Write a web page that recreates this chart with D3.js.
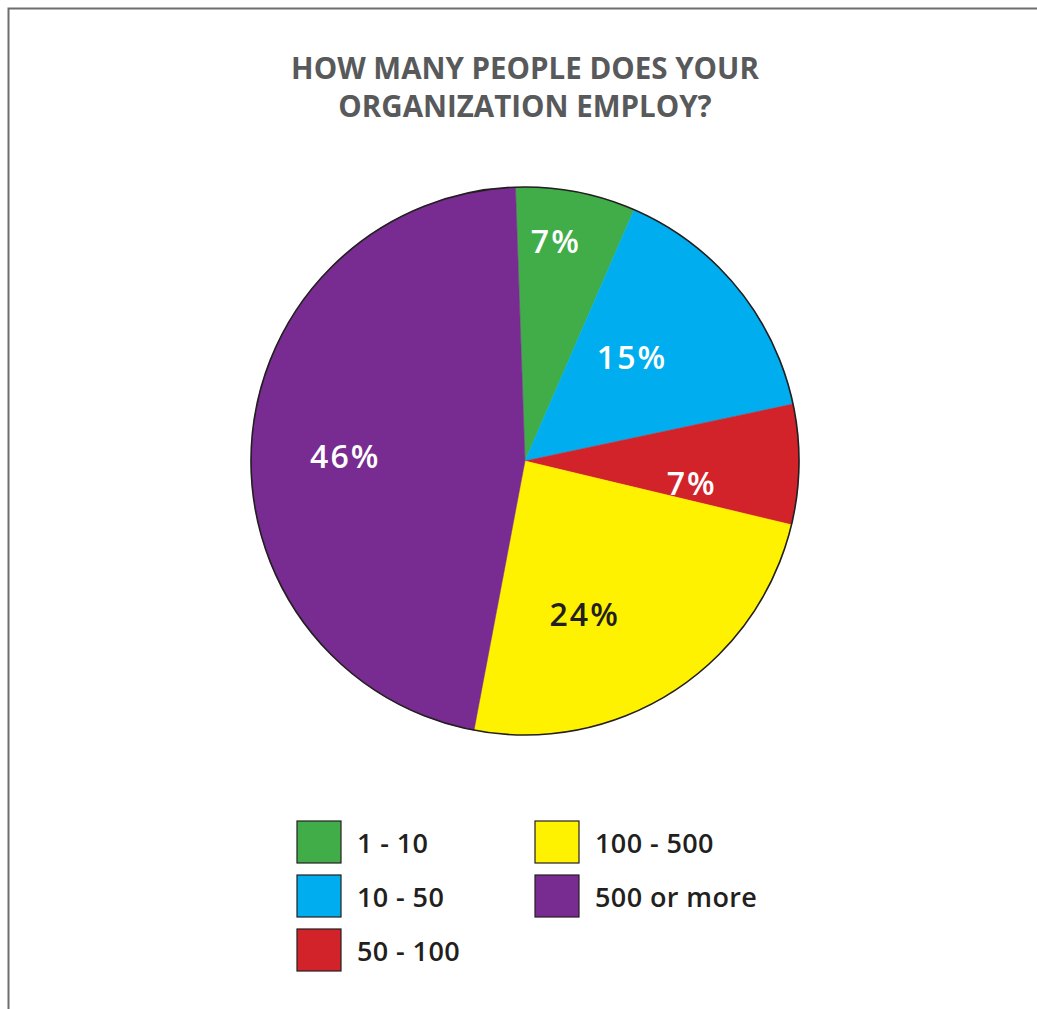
<!DOCTYPE html>
<html>
<head>
<meta charset="utf-8">
<script src="https://cdn.jsdelivr.net/npm/d3@7"></script>
<style>
  html, body { margin: 0; padding: 0; background: #fff; }
  svg { display: block; }
</style>
</head>
<body>
<svg id="chart" width="1037" height="1009"></svg>
<script>
// Survey answers: company size and share of respondents (%)
const categories = ["1 - 10", "10 - 50", "50 - 100", "100 - 500", "500 or more"];
const shares = [7, 15, 7, 24, 46];
const colors = ["#41AD49", "#00AEEF", "#D2232A", "#FFF200", "#782B90"];
const labelColors = ["#ffffff", "#ffffff", "#ffffff", "#231F20", "#ffffff"];
const title = ["HOW MANY PEOPLE DOES YOUR", "ORGANIZATION EMPLOY?"];

// Label placement per slice: distance from centre (fraction of radius) and angular nudge (degrees)
const labelRadius = [0.81, 0.54, 0.61, 0.60, 0.66];
const labelNudge = [-3, -5, 7, 12, -3];

const svg = d3.select("#chart");
const W = 1037, H = 1009;

// frame
svg.append("rect")
  .attr("x", 8.5).attr("y", 8.5)
  .attr("width", W + 20).attr("height", H + 20)
  .attr("fill", "none").attr("stroke", "#6d6e71").attr("stroke-width", 2);

// title
svg.append("g").selectAll("text").data(title).join("text")
  .attr("x", 525).attr("y", (d, i) => 79 + i * 38)
  .attr("text-anchor", "middle")
  .attr("font-family", "'Open Sans', sans-serif")
  .attr("font-weight", 700)
  .attr("font-size", 29.5)
  .attr("fill", "#58595B")
  .text(d => d);

const cx = 525, cy = 461, R = 274;
const toRad = Math.PI / 180;

const pie = d3.pie().sort(null).value(d => d)
  .startAngle(-2 * toRad).endAngle(358 * toRad);
const arcs = pie(shares);
const arc = d3.arc().innerRadius(0).outerRadius(R);

const g = svg.append("g").attr("transform", `translate(${cx},${cy})`);

g.selectAll("path.slice").data(arcs).join("path")
  .attr("class", "slice")
  .attr("d", arc)
  .attr("fill", (d, i) => colors[i])
  .attr("stroke", (d, i) => colors[i])
  .attr("stroke-width", 0.5);

// outer outline
g.append("circle").attr("r", R)
  .attr("fill", "none").attr("stroke", "#231F20").attr("stroke-width", 1.6);

// percentage labels
g.selectAll("text.pct").data(arcs).join("text")
  .attr("class", "pct")
  .attr("transform", (d, i) => {
    const a = (d.startAngle + d.endAngle) / 2 + labelNudge[i] * toRad;
    const r = R * labelRadius[i];
    return `translate(${r * Math.sin(a) + 1},${-r * Math.cos(a)})`;
  })
  .attr("text-anchor", "middle")
  .attr("dy", "0.36em")
  .attr("font-family", "'Open Sans', sans-serif")
  .attr("font-weight", 600)
  .attr("font-size", 32)
  .attr("letter-spacing", 2)
  .attr("fill", (d, i) => labelColors[i])
  .text(d => d.data + "%");

// legend: two columns, three rows
const legendCol = d3.scaleOrdinal().domain([0, 1]).range([297, 535]);
const legendRow = d3.scaleLinear().domain([0, 1]).range([821, 875]);
const legend = svg.append("g").selectAll("g").data(categories).join("g")
  .attr("transform", (d, i) => `translate(${legendCol(Math.floor(i / 3))},${legendRow(i % 3)})`);

legend.append("rect")
  .attr("width", 44).attr("height", 42)
  .attr("fill", (d, i) => colors[i])
  .attr("stroke", "#231F20").attr("stroke-width", 1.2);

legend.append("text")
  .attr("x", 60).attr("y", 32)
  .attr("font-family", "'Open Sans', sans-serif")
  .attr("font-weight", 600)
  .attr("font-size", 27)
  .attr("letter-spacing", 0.4)
  .attr("fill", "#231F20")
  .text(d => d);
</script>
</body>
</html>
